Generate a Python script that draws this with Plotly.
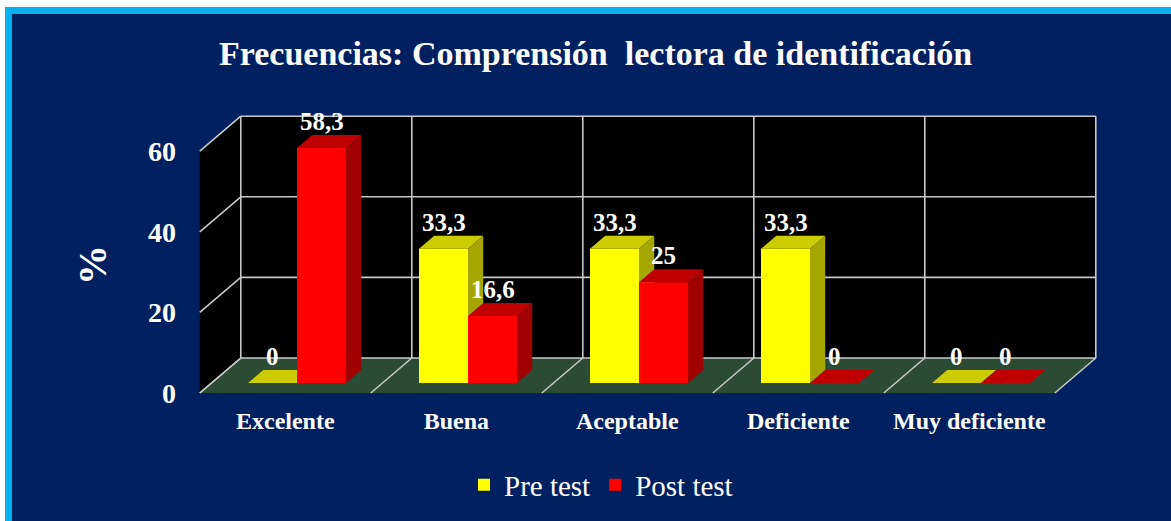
import plotly.graph_objects as go

# ---------------- data ----------------
categories = ["Excelente", "Buena", "Aceptable", "Deficiente", "Muy deficiente"]
pre_test = [0, 33.3, 33.3, 33.3, 0]
post_test = [58.3, 16.6, 25, 0, 0]
y_ticks = [0, 20, 40, 60]
series_names = ["Pre test", "Post test"]

# ---------------- styling / geometry ----------------
W, H = 1171, 521
PX_CAT = 171.0          # px per category
PX_UNIT = 4.03          # px per value unit
X0_PX, Y0_PX = 285.3, 393.0   # front plane: category 0 centre, value 0
DDX = 41.0 / PX_CAT     # full depth shift (category units)
DDY = 35.0 / PX_UNIT    # full depth shift (value units)
T_FRONT, T_BACK = 10.0 / 35.0, 23.0 / 35.0
BAR_W = 49.0 / PX_CAT
YMAX = y_ticks[-1]

NAVY = "#002060"
CYAN = "#00B0F0"
FLOOR = "#2B4B34"
GRID = "#C8C8C8"
FONT = "Liberation Serif"
colors = {
    "Pre test": ("#FFFF00", "#CCCC00", "#A6A600"),
    "Post test": ("#FF0000", "#C00000", "#A00000"),
}

left_px = 199.0
x_range = [(left_px - X0_PX) / PX_CAT, (W - X0_PX) / PX_CAT]
y_range = [(Y0_PX - H) / PX_UNIT, Y0_PX / PX_UNIT]


def px_x(p):
    return p / W


def px_y(p):
    return 1 - p / H


def pt(x, v, t):
    return x + t * DDX, v + t * DDY


def poly(points, fill):
    d = "M " + " L ".join(f"{x:.5f},{y:.5f}" for x, y in points) + " Z"
    return dict(type="path", xref="x", yref="y", path=d, fillcolor=fill,
                line=dict(width=0), layer="below")


def seg(p, q, color=GRID, width=1.6):
    return dict(type="line", xref="x", yref="y", x0=p[0], y0=p[1], x1=q[0], y1=q[1],
                line=dict(color=color, width=width), layer="below")


shapes = []
# frame
shapes.append(dict(type="rect", xref="paper", yref="paper", x0=px_x(5), x1=1.01,
                   y0=-0.01, y1=px_y(7), fillcolor=CYAN, line_width=0, layer="below"))
shapes.append(dict(type="rect", xref="paper", yref="paper", x0=px_x(12), x1=1.01,
                   y0=-0.01, y1=px_y(14), fillcolor=NAVY, line_width=0, layer="below"))

n = len(categories)
xl, xr = -0.5, n - 0.5
# back wall
shapes.append(poly([pt(xl, 0, 1), pt(xr, 0, 1), pt(xr, YMAX, 1), pt(xl, YMAX, 1)], "#000000"))
# side wall
shapes.append(poly([pt(xl, 0, 0), pt(xl, 0, 1), pt(xl, YMAX, 1), pt(xl, YMAX, 0)], "#000000"))
# floor
shapes.append(poly([pt(xl, 0, 0), pt(xr, 0, 0), pt(xr, 0, 1), pt(xl, 0, 1)], FLOOR))
# grid
for v in y_ticks:
    shapes.append(seg(pt(xl, v, 1), pt(xr, v, 1)))
    shapes.append(seg(pt(xl, v, 0), pt(xl, v, 1)))
for k in range(n + 1):
    xb = xl + k
    shapes.append(seg(pt(xb, 0, 1), pt(xb, YMAX, 1)))
    shapes.append(seg(pt(xb, 0, 0), pt(xb, 0, 1)))

fig = go.Figure()
annotations = []
bar_base = T_FRONT * DDY
dx3 = (T_BACK - T_FRONT) * DDX
dy3 = (T_BACK - T_FRONT) * DDY
x_bar = [i + T_FRONT * DDX for i in range(n)]

for name, vals, off in [("Pre test", pre_test, -BAR_W), ("Post test", post_test, 0.0)]:
    front, top, side = colors[name]
    for i, v in enumerate(vals):
        x0 = x_bar[i] + off
        x1 = x0 + BAR_W
        vt = bar_base + v
        shapes.append(poly([(x0, vt), (x1, vt), (x1 + dx3, vt + dy3), (x0 + dx3, vt + dy3)], top))
        if v > 0:
            shapes.append(poly([(x1, bar_base), (x1, vt), (x1 + dx3, vt + dy3),
                                (x1 + dx3, bar_base + dy3)], side))
        annotations.append(dict(xref="x", yref="y", x=(x0 + x1) / 2, y=vt + 6.6,
                                text=f"{v:g}".replace(".", ","), showarrow=False,
                                font=dict(family=FONT, size=25, color="white", weight="bold"),
                                xanchor="center", yanchor="middle"))
    fig.add_trace(go.Bar(
        name=name, x=x_bar, y=vals, base=bar_base, width=BAR_W, offset=off,
        marker=dict(color=front, line=dict(width=0)), hoverinfo="skip",
    ))

# title
annotations.append(dict(xref="paper", yref="paper", x=px_x(595), y=px_y(53),
                        text="Frecuencias: Comprensión  lectora de identificación",
                        showarrow=False, xanchor="center", yanchor="middle",
                        font=dict(family=FONT, size=34, color="white", weight="bold")))
# y title
annotations.append(dict(xref="paper", yref="paper", x=px_x(92), y=px_y(265), text="%",
                        textangle=-90, showarrow=False, xanchor="center", yanchor="middle",
                        font=dict(family=FONT, size=40, color="white", weight="bold")))

fig.update_layout(
    width=W, height=H, margin=dict(l=0, r=0, t=0, b=0),
    paper_bgcolor="white", plot_bgcolor="rgba(0,0,0,0)",
    barmode="overlay", shapes=shapes, annotations=annotations,
    showlegend=True, hovermode=False,
    legend=dict(orientation="h", x=px_x(601), y=px_y(485), xanchor="center", yanchor="middle",
                font=dict(family=FONT, size=29, color="white"), bgcolor="rgba(0,0,0,0)",
                itemclick=False, itemdoubleclick=False),
    xaxis=dict(domain=[left_px / W, 1], range=x_range, showgrid=False, zeroline=False,
               showline=False, tickvals=list(range(n)), ticktext=categories,
               anchor="free", position=(H - 404) / H, ticks="", automargin=False,
               tickfont=dict(family=FONT, size=24, color="white", weight="bold")),
    yaxis=dict(domain=[0, 1], range=y_range, showgrid=False, zeroline=False, showline=False,
               tickvals=y_ticks, ticktext=[str(t) for t in y_ticks], ticks="",
               ticklabelstandoff=22, automargin=False,
               tickfont=dict(family=FONT, size=28, color="white", weight="bold")),
)

fig.write_html(
    "out.html",
    config={"displayModeBar": False},
    post_script="document.body.style.margin='0';document.body.style.overflow='hidden';",
)
